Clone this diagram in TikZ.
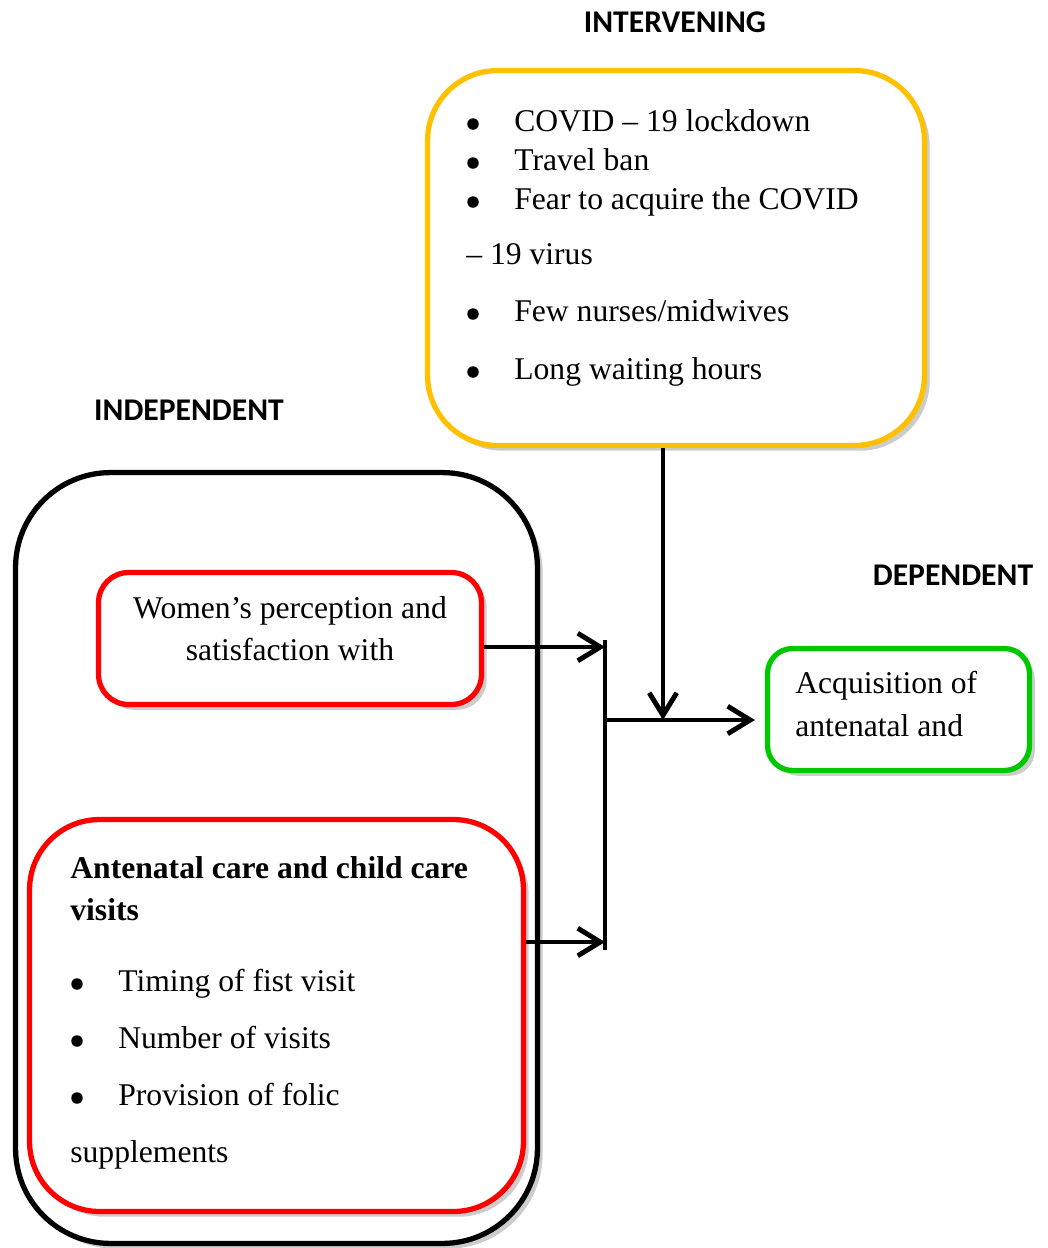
\documentclass[tikz,border=0pt]{standalone}
\usepackage{fontspec}
\setmainfont{Liberation Serif}
\newfontfamily\headfont{Carlito}
\usetikzlibrary{arrows.meta,shadows,positioning}
\definecolor{ambar}{RGB}{255,192,0}
\definecolor{verde}{RGB}{0,200,0}

\begin{document}
\begin{tikzpicture}[x=0.02cm,y=-0.02cm,
    box/.style={draw,fill=white,line width=3pt,
        drop shadow={opacity=0.4,shadow xshift=3pt,shadow yshift=-3pt}},
    head/.style={font=\headfont\bfseries\fontsize{18}{22}\selectfont},
    txt/.style={inner sep=0pt,anchor=base west,font=\fontsize{18}{22}\selectfont},
    bul/.style={inner sep=0pt,anchor=base,font=\fontsize{18}{22}\selectfont},
    dot/.style={circle,fill=black,inner sep=0pt,minimum size=0.23cm},
    arr/.style={line width=2.8pt,-{Straight Barb[length=0.45cm,width=0.55cm,line width=2.8pt]}}]
    \useasboundingbox (0,0) rectangle (1048,1248);

    \node[head] (hint) at (675,22) {INTERVENING};
    \node[head] (hind) at (189,410) {INDEPENDENT};
    \node[head] (hdep) at (953,575) {DEPENDENT};

    \node[box,draw=ambar,rounded corners=1.4cm,minimum width=9.94cm,minimum height=7.5cm] (yel) at (676,258) {};
    \node[box,draw=black,rounded corners=1.9cm,minimum width=10.44cm,minimum height=15.42cm] (ind) at (276.5,858) {};
    \node[box,draw=red,rounded corners=0.6cm,minimum width=7.66cm,minimum height=2.64cm] (wom) at (290,638.5) {};
    \node[box,draw=red,rounded corners=1.4cm,minimum width=9.88cm,minimum height=7.84cm] (anc) at (276.5,1015.5) {};
    \node[box,draw=verde,rounded corners=0.5cm,minimum width=5.24cm,minimum height=2.44cm] (acq) at (898.5,709.5) {};

    % intervening factors
    \foreach \y/\t [count=\i] in {131/COVID -- 19 lockdown,170/Travel ban,209/Fear to acquire the COVID,
                                  321/{Few nurses/midwives},379/Long waiting hours}{
        \node[dot] (ib\i) at (473,\y-7) {};
        \node[txt] (it\i) at (514,\y) {\t};
    }
    \node[txt] (it0) at (466,264) {-- 19 virus};

    \node[bul] (w1) at (290,618) {Women’s perception and};
    \node[bul] (w2) at (290,660) {satisfaction with};

    \node[txt,font=\bfseries\fontsize{18}{22}\selectfont] (a1) at (70,878) {Antenatal care and child care};
    \node[txt,font=\bfseries\fontsize{18}{22}\selectfont] (a2) at (70,920) {visits};
    \foreach \y/\t [count=\i] in {991/Timing of fist visit,1048/Number of visits,1105/Provision of folic}{
        \node[dot] (ab\i) at (77,\y-7) {};
        \node[txt] (at\i) at (118,\y) {\t};
    }
    \node[txt] (a3) at (70,1162) {supplements};

    \node[txt] (g1) at (795,693) {Acquisition of};
    \node[txt] (g2) at (795,736) {antenatal and};

    \coordinate (j1) at (605,647);
    \coordinate (j2) at (605,942);
    \coordinate (jm) at (605,720);
    \coordinate (jt) at (663,720);

    \draw[arr] (wom.east |- j1) -- (j1);
    \draw[arr] (anc.east |- j2) -- (j2);
    \draw[line width=2.8pt] ([yshift=0.14cm]j1) -- ([yshift=-0.16cm]j2);
    \draw[arr] (yel.south -| jt) -- (jt);
    \draw[arr,shorten >=0.2cm] (jm) -- (acq.west |- jm);
\end{tikzpicture}
\end{document}
